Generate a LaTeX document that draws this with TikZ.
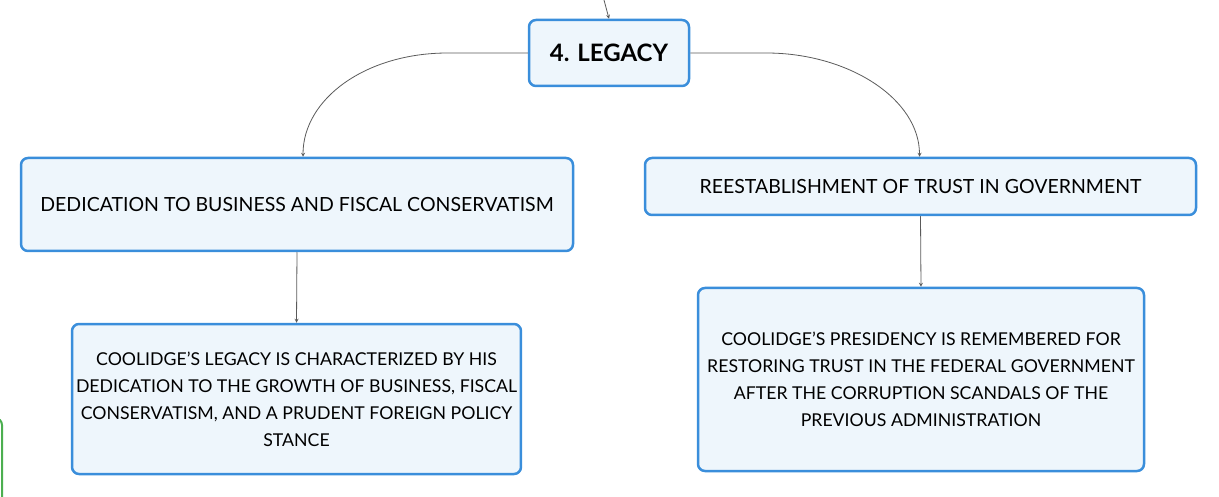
\documentclass[tikz,border=0pt]{standalone}
\usepackage{fontspec}
\setmainfont{Lato}
\usetikzlibrary{positioning,calc}
\definecolor{boxblue}{HTML}{3A8EDB}
\definecolor{boxfill}{HTML}{EEF6FC}
\definecolor{linegray}{HTML}{5A5A5A}
\definecolor{sidegreen}{HTML}{4CAF50}
\tikzset{
  topic/.style={draw=boxblue,fill=boxfill,line width=2.5pt,rounded corners=7pt,align=center,inner sep=4pt},
  conn/.style={->,draw=linegray,line width=0.8pt},
}
\begin{document}
\begin{tikzpicture}[>=stealth,x=1pt,y=-1pt]
	\useasboundingbox (0,0) rectangle (1219,497);
	% box cut off at the left edge
	\begin{scope}
		\clip (0,0) rectangle (1219,497);
		\draw[draw=sidegreen,line width=2pt,rounded corners=7pt] (-40,418) rectangle (2,540);
	\end{scope}
	\coordinate (top) at (604,0);
	\node[topic,minimum width=160pt,minimum height=66pt,font=\bfseries\fontsize{24}{28}\selectfont] (legacy) at (609,53) {4. LEGACY};
	\node[topic,minimum width=552pt,minimum height=93pt,font=\fontsize{19.5}{23}\selectfont] (dedic) at (297,204.5) {DEDICATION TO BUSINESS AND FISCAL CONSERVATISM};
	\node[topic,minimum width=551pt,minimum height=57pt,font=\fontsize{19.5}{23}\selectfont] (trust) at (920.5,186.5) {REESTABLISHMENT OF TRUST IN GOVERNMENT};
	\node[topic,minimum width=447pt,minimum height=150pt,font=\fontsize{17.7}{27}\selectfont] (legacytext) at (296.5,399) {COOLIDGE'S LEGACY IS CHARACTERIZED BY HIS\\DEDICATION TO THE GROWTH OF BUSINESS, FISCAL\\CONSERVATISM, AND A PRUDENT FOREIGN POLICY\\STANCE};
	\node[topic,minimum width=446pt,minimum height=183pt,font=\fontsize{17.7}{27}\selectfont] (trusttext) at (921,379.5) {COOLIDGE'S PRESIDENCY IS REMEMBERED FOR\\RESTORING TRUST IN THE FEDERAL GOVERNMENT\\AFTER THE CORRUPTION SCANDALS OF THE\\PREVIOUS ADMINISTRATION};
	\draw[conn] (top) -- (legacy.north);
	\draw[conn] (legacy.west) -- ++(-80,0) .. controls +(-82,0) and +(0,-58) .. ($(dedic.north)+(6,0)$);
	\draw[conn] (legacy.east) -- ++(76,0) .. controls +(82,0) and +(0,-58) .. ($(trust.north)+(-1,0)$);
	\draw[conn] (dedic.south) -- (legacytext.north);
	\draw[conn] (trust.south) -- (trusttext.north);
\end{tikzpicture}
\end{document}
